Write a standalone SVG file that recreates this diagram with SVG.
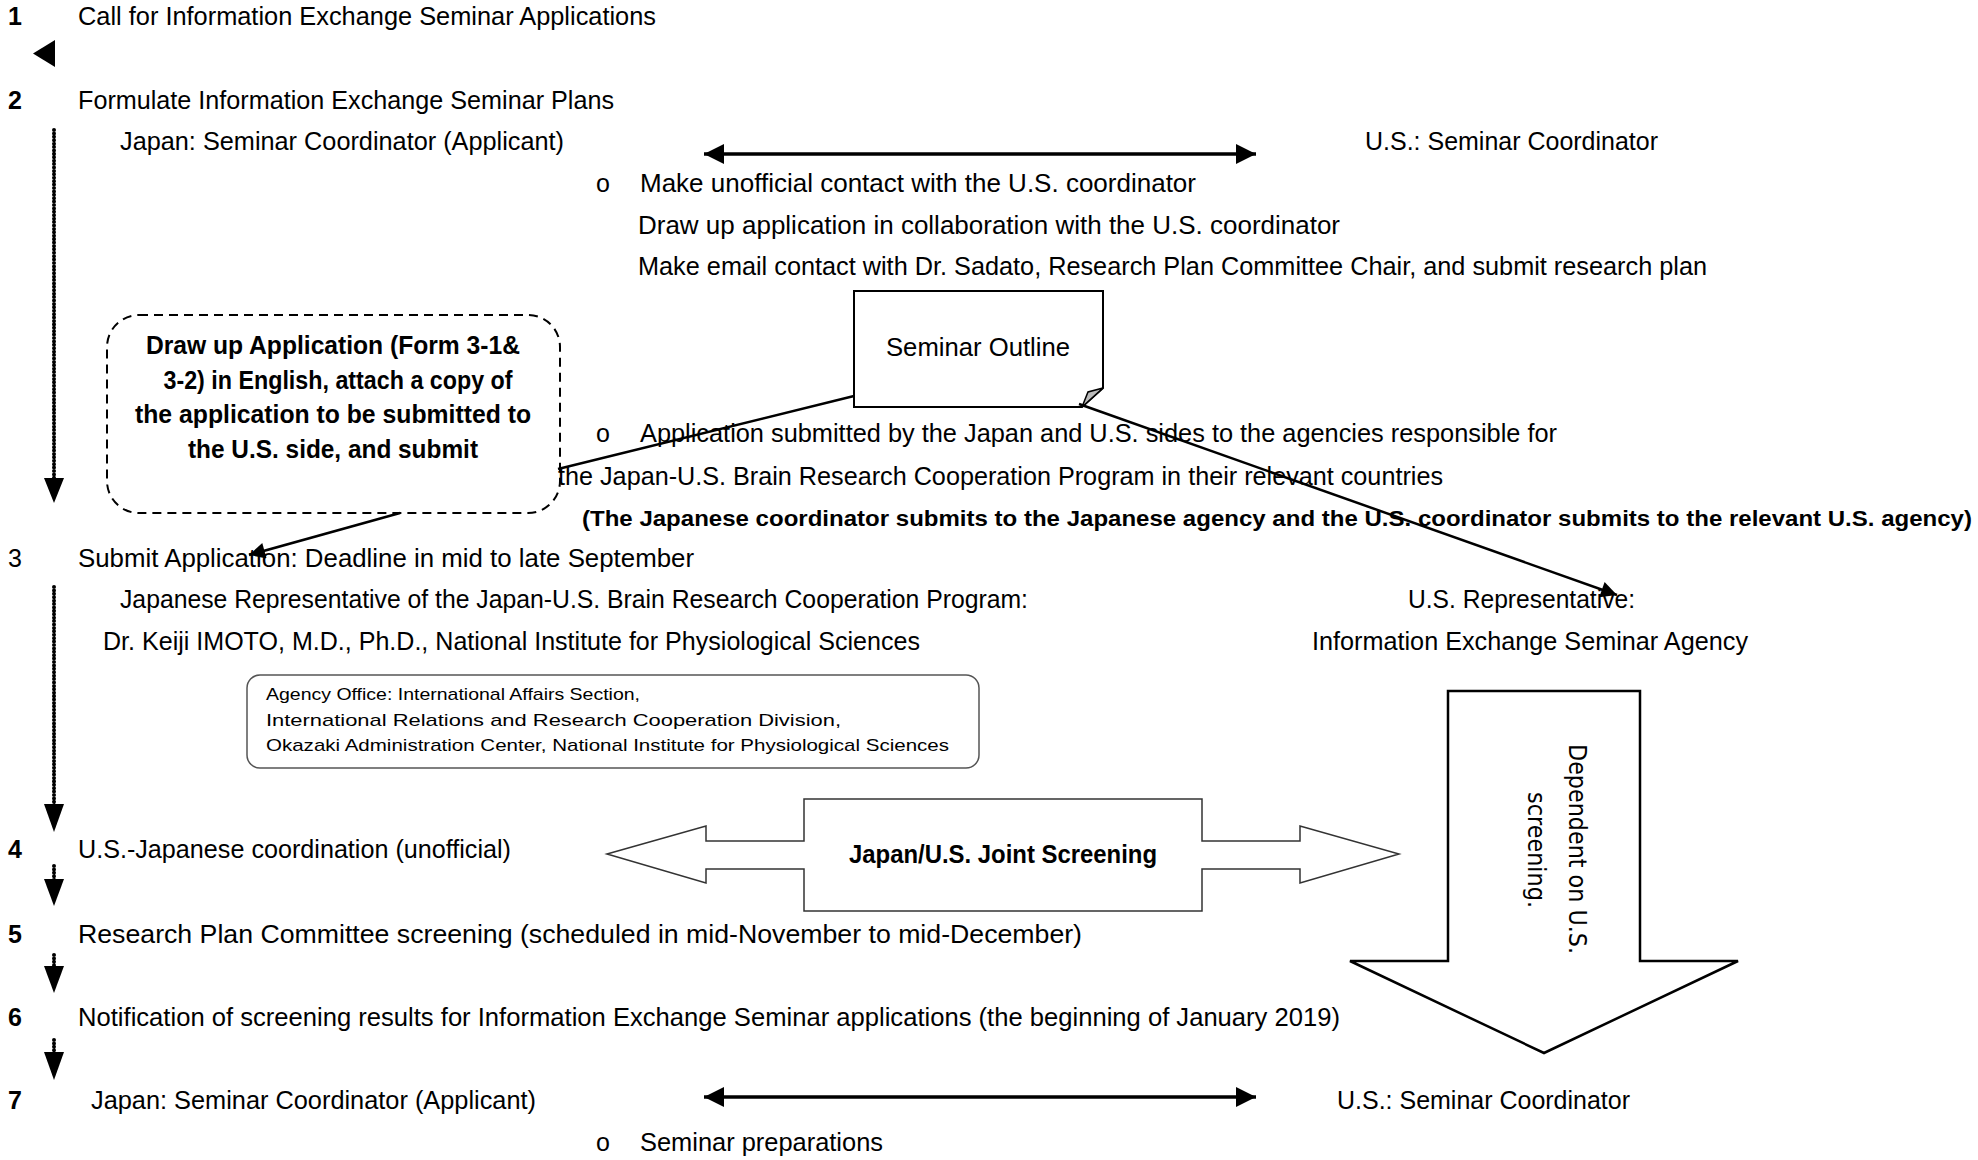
<svg xmlns="http://www.w3.org/2000/svg" width="1978" height="1160" viewBox="0 0 1978 1160">
<style>
.t{font-family:"Liberation Sans",Arial,sans-serif;font-size:25px;fill:#000}
.b{font-weight:bold}
.s{font-family:"Liberation Sans",Arial,sans-serif;font-size:17px;fill:#000}
.v{font-family:"DejaVu Sans",Verdana,sans-serif;font-size:24px;fill:#000}
.dot{stroke:#000;stroke-width:4;stroke-linecap:round;stroke-dasharray:0.01 3.4;fill:none}
.ln{stroke:#000;stroke-width:2.5;fill:none}
.dbl{stroke:#000;stroke-width:3.5;fill:none}
.hd{fill:#000}
</style>
<defs>
<marker id="ah" viewBox="0 0 10 10" refX="10" refY="5" markerWidth="20" markerHeight="16" markerUnits="userSpaceOnUse" orient="auto-start-reverse">
<path d="M0,0 L10,5 L0,10 Z" fill="#000"/>
</marker>
<marker id="dh" viewBox="0 0 10 10" refX="10" refY="5" markerWidth="20" markerHeight="24" markerUnits="userSpaceOnUse" orient="auto-start-reverse">
<path d="M0,0 L10,5 L0,10 Z" fill="#000"/>
</marker>
</defs>

<g id="steps">
<text class="t b" x="8" y="25">1</text>
<text class="t" x="78" y="25" textLength="578" lengthAdjust="spacingAndGlyphs">Call for Information Exchange Seminar Applications</text>
<text class="t b" x="8" y="109">2</text>
<text class="t" x="78" y="109" textLength="536" lengthAdjust="spacingAndGlyphs">Formulate Information Exchange Seminar Plans</text>
<text class="t" x="8" y="567">3</text>
<text class="t" x="78" y="567" textLength="616" lengthAdjust="spacingAndGlyphs">Submit Application: Deadline in mid to late September</text>
<text class="t b" x="8" y="858">4</text>
<text class="t" x="78" y="858" textLength="433" lengthAdjust="spacingAndGlyphs">U.S.-Japanese coordination (unofficial)</text>
<text class="t b" x="8" y="943">5</text>
<text class="t" x="78" y="943" textLength="1004" lengthAdjust="spacingAndGlyphs">Research Plan Committee screening (scheduled in mid-November to mid-December)</text>
<text class="t b" x="8" y="1026">6</text>
<text class="t" x="78" y="1026" textLength="1262" lengthAdjust="spacingAndGlyphs">Notification of screening results for Information Exchange Seminar applications (the beginning of January 2019)</text>
<text class="t b" x="8" y="1109">7</text>
</g>

<g id="plan-texts">
<text class="t" x="120" y="150" textLength="444" lengthAdjust="spacingAndGlyphs">Japan: Seminar Coordinator (Applicant)</text>
<text class="t" x="1365" y="150" textLength="293" lengthAdjust="spacingAndGlyphs">U.S.: Seminar Coordinator</text>
<text class="t" x="596" y="192">o</text>
<text class="t" x="640" y="192" textLength="556" lengthAdjust="spacingAndGlyphs">Make unofficial contact with the U.S. coordinator</text>
<text class="t" x="638" y="234" textLength="702" lengthAdjust="spacingAndGlyphs">Draw up application in collaboration with the U.S. coordinator</text>
<text class="t" x="638" y="275" textLength="1069" lengthAdjust="spacingAndGlyphs">Make email contact with Dr. Sadato, Research Plan Committee Chair, and submit research plan</text>
<text class="t" x="596" y="442">o</text>
<text class="t" x="640" y="442" textLength="917" lengthAdjust="spacingAndGlyphs">Application submitted by the Japan and U.S. sides to the agencies responsible for</text>
<text class="t" x="558" y="485" textLength="885" lengthAdjust="spacingAndGlyphs">the Japan-U.S. Brain Research Cooperation Program in their relevant countries</text>
<text class="t b" x="582" y="526" style="font-size:22px" textLength="1390" lengthAdjust="spacingAndGlyphs">(The Japanese coordinator submits to the Japanese agency and the U.S. coordinator submits to the relevant U.S. agency)</text>
</g>

<g id="representatives">
<text class="t" x="120" y="608" textLength="908" lengthAdjust="spacingAndGlyphs">Japanese Representative of the Japan-U.S. Brain Research Cooperation Program:</text>
<text class="t" x="1408" y="608" textLength="227" lengthAdjust="spacingAndGlyphs">U.S. Representative:</text>
<text class="t" x="103" y="650" textLength="817" lengthAdjust="spacingAndGlyphs">Dr. Keiji IMOTO, M.D., Ph.D., National Institute for Physiological Sciences</text>
<text class="t" x="1312" y="650" textLength="436" lengthAdjust="spacingAndGlyphs">Information Exchange Seminar Agency</text>
</g>

<g id="agency-office">
<rect x="247" y="675" width="732" height="93" rx="13" fill="#fff" stroke="#555" stroke-width="1.5"/>
<text class="s" x="266" y="700" textLength="374" lengthAdjust="spacingAndGlyphs">Agency Office: International Affairs Section,</text>
<text class="s" x="266" y="726" textLength="575" lengthAdjust="spacingAndGlyphs">International Relations and Research Cooperation Division,</text>
<text class="s" x="266" y="751" textLength="683" lengthAdjust="spacingAndGlyphs">Okazaki Administration Center, National Institute for Physiological Sciences</text>
</g>

<g id="draw-up-application">
<rect x="107" y="315" width="453" height="198" rx="32" fill="none" stroke="#000" stroke-width="2" stroke-dasharray="9 6"/>
<text class="t b" x="333" y="354" text-anchor="middle" textLength="374" lengthAdjust="spacingAndGlyphs">Draw up Application (Form 3-1&amp;</text>
<text class="t b" x="338" y="389" text-anchor="middle" textLength="349" lengthAdjust="spacingAndGlyphs">3-2) in English, attach a copy of</text>
<text class="t b" x="333" y="423" text-anchor="middle" textLength="396" lengthAdjust="spacingAndGlyphs">the application to be submitted to</text>
<text class="t b" x="333" y="458" text-anchor="middle" textLength="290" lengthAdjust="spacingAndGlyphs">the U.S. side, and submit</text>
</g>

<g id="seminar-outline">
<path d="M854,291 H1103 V388 L1082,407 H854 Z" fill="#fff" stroke="#000" stroke-width="2"/>
<path d="M1082,407 L1088,392 L1103,388 Z" fill="#bbb" stroke="#000" stroke-width="1.5"/>
<text class="t" x="978" y="356" text-anchor="middle" textLength="184" lengthAdjust="spacingAndGlyphs">Seminar Outline</text>
</g>

<g id="joint-screening">
<path d="M607,854 L706,826 V841 H804 V799 H1202 V841 H1300 V826 L1399,854 L1300,883 V869 H1202 V911 H804 V869 H706 V883 Z" fill="#fff" stroke="#333" stroke-width="1.5"/>
<text class="t b" x="1003" y="863" text-anchor="middle" textLength="308" lengthAdjust="spacingAndGlyphs">Japan/U.S. Joint Screening</text>
</g>

<g id="us-screening">
<path d="M1448,691 H1640 V961 H1738 L1544,1053 L1350,961 H1448 Z" fill="#fff" stroke="#000" stroke-width="2.5"/>
<text class="v" transform="translate(1569,849) rotate(90)" text-anchor="middle" textLength="210" lengthAdjust="spacingAndGlyphs">Dependent on U.S.</text>
<text class="v" transform="translate(1528,850) rotate(90)" text-anchor="middle" textLength="116" lengthAdjust="spacingAndGlyphs">screening.</text>
</g>

<g id="preparation">
<text class="t" x="91" y="1109" textLength="445" lengthAdjust="spacingAndGlyphs">Japan: Seminar Coordinator (Applicant)</text>
<text class="t" x="1337" y="1109" textLength="293" lengthAdjust="spacingAndGlyphs">U.S.: Seminar Coordinator</text>
<text class="t" x="596" y="1151">o</text>
<text class="t" x="640" y="1151" textLength="243" lengthAdjust="spacingAndGlyphs">Seminar preparations</text>
</g>

<g id="connectors">
<polygon class="hd" points="55,40 55,67 33,53.5"/>
<line class="dot" x1="54" y1="130" x2="54" y2="480"/>
<polygon class="hd" points="44,478 64,478 54,503"/>
<line class="dot" x1="54" y1="587" x2="54" y2="806"/>
<polygon class="hd" points="44,804 64,804 54,832"/>
<line class="dot" x1="54" y1="866" x2="54" y2="880"/>
<polygon class="hd" points="44,879 64,879 54,906"/>
<line class="dot" x1="54" y1="955" x2="54" y2="968"/>
<polygon class="hd" points="44,966 64,966 54,993"/>
<line class="dot" x1="54" y1="1040" x2="54" y2="1054"/>
<polygon class="hd" points="44,1052 64,1052 54,1080"/>
<line class="dbl" x1="704" y1="154" x2="1256" y2="154" marker-start="url(#dh)" marker-end="url(#dh)"/>
<line class="dbl" x1="704" y1="1097" x2="1256" y2="1097" marker-start="url(#dh)" marker-end="url(#dh)"/>
<line class="ln" x1="854" y1="396" x2="558" y2="469"/>
<line class="ln" x1="400" y1="513" x2="249" y2="555" marker-end="url(#ah)"/>
<line class="ln" x1="1079" y1="404" x2="1617" y2="595" marker-end="url(#ah)"/>
</g>
</svg>
